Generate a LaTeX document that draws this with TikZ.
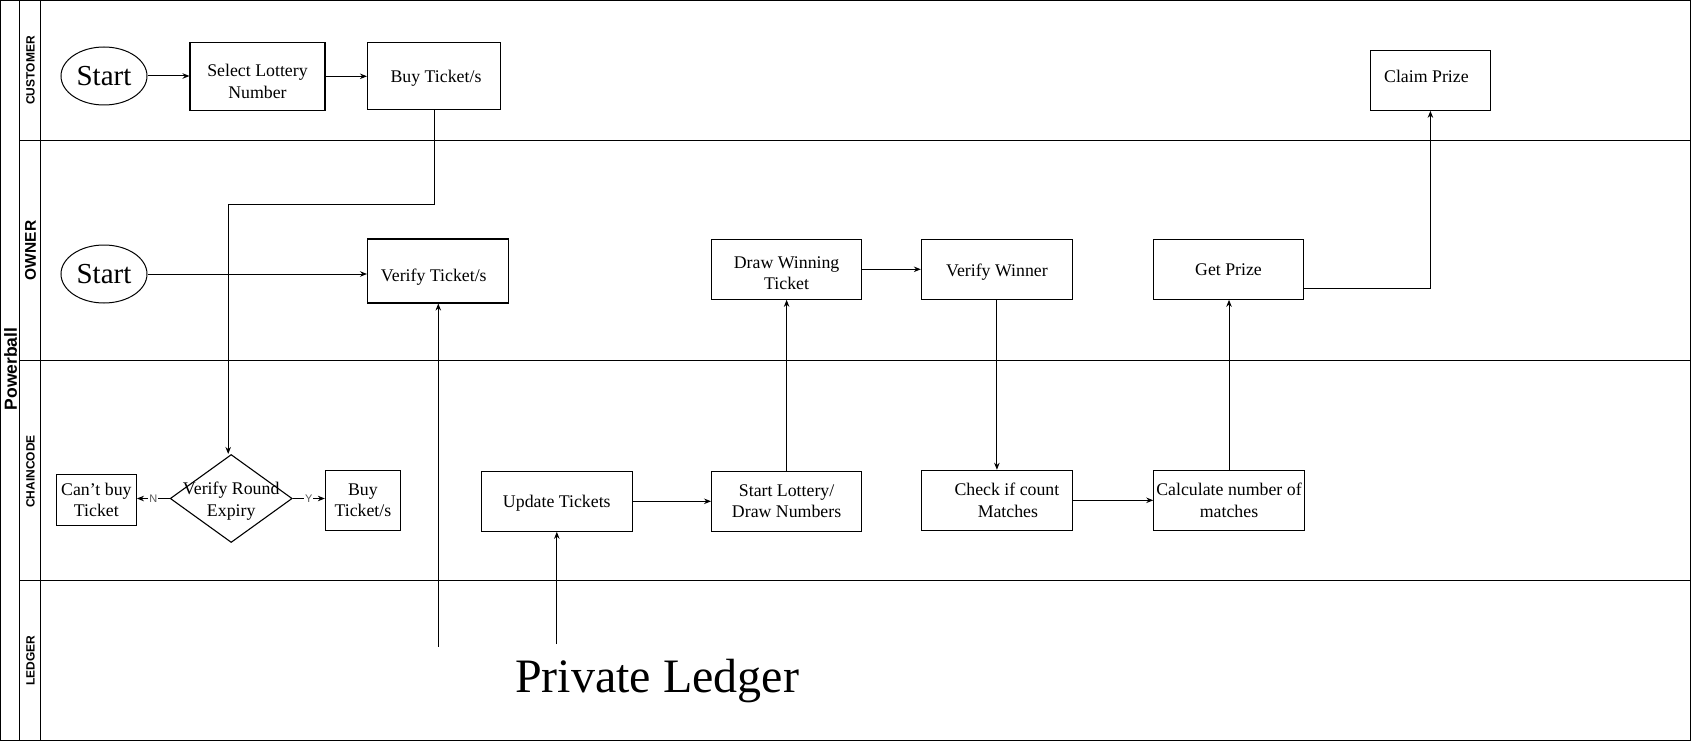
\documentclass[tikz,border=0pt]{standalone}
\usepackage{fontspec}
\setmainfont{Liberation Serif}
\newfontfamily\lanesans{Liberation Sans}
\usetikzlibrary{shapes.geometric,arrows.meta}
\begin{document}
\begin{tikzpicture}[x=1pt,y=-1pt,
  every node/.style={inner sep=0pt},
  box/.style={draw, line width=1.1pt, rectangle, align=center, font=\fontsize{17.8}{21.6}\selectfont},
  txt/.style={align=center, font=\fontsize{17.8}{21.6}\selectfont},
  startnode/.style={draw, line width=1pt, ellipse, minimum width=86pt, minimum height=58pt, font=\fontsize{29}{32}\selectfont},
  arr/.style={line width=1pt, -{Stealth[length=7pt,width=5.5pt]}},
  lane/.style={line width=1.2pt},
  lanelbl/.style={rotate=90, font=\lanesans\bfseries\fontsize{12}{14}\selectfont},
  yn/.style={fill=white, text=black!65, font=\lanesans\fontsize{11}{12}\selectfont, inner sep=1pt}
]
\useasboundingbox (0,0) rectangle (1691,741);
\fill[white] (0,0) rectangle (1691,741);

% pool and lanes
\draw[lane] (0.6,0.6) rectangle (1690.2,740.2);
\draw[lane] (19.5,0.6) -- (19.5,740.2);
\draw[lane] (40.6,0.6) -- (40.6,740.2);
\draw[lane] (19.5,140.2) -- (1690.2,140.2);
\draw[lane] (19.5,360.5) -- (1690.2,360.5);
\draw[lane] (19.5,580.3) -- (1690.2,580.3);

\node[rotate=90, font=\lanesans\bfseries\fontsize{17.5}{20}\selectfont] (pool) at (10.5,369) {Powerball};
\node[lanelbl] (lcust) at (30.5,70.5) {CUSTOMER};
\node[lanelbl, font=\lanesans\bfseries\fontsize{15.5}{18}\selectfont] (lown) at (30.5,250.5) {OWNER};
\node[lanelbl] (lchain) at (30.5,471.5) {CHAINCODE};
\node[lanelbl] (lledg) at (30.5,660.5) {LEDGER};

% customer lane
\node[startnode] (s1) at (104,76) {Start};
\node[box, minimum width=135pt, minimum height=68pt] (sel) at (257.5,76.3) {};
\node[txt] (selt) at ([yshift=-5pt]sel.center) {Select Lottery\\Number};
\node[box, minimum width=133pt, minimum height=67pt] (buy) at (434,75.8) {};
\node[txt] (buyt) at ([xshift=2pt,yshift=-2pt]buy.center) {Buy Ticket/s};
\node[box, minimum width=120pt, minimum height=60pt] (claim) at (1430.4,80.3) {};
\node[txt] (claimt) at ([xshift=-4pt,yshift=4pt]claim.center) {Claim Prize};

% owner lane
\node[startnode] (s2) at (104,274) {Start};
\node[box, minimum width=140.5pt, minimum height=64pt] (vt) at (437.8,271) {};
\node[txt] (vtt) at ([xshift=-4pt,yshift=-6pt]vt.center) {Verify Ticket/s};
\node[box, minimum width=150pt, minimum height=60pt] (dwt) at (786.6,269.3) {};
\node[txt] (dwtt) at ([yshift=-4pt]dwt.center) {Draw Winning\\Ticket};
\node[box, minimum width=151pt, minimum height=60pt] (vw) at (996.9,269.3) {};
\node[txt] (vwt) at ([yshift=-3pt]vw.center) {Verify Winner};
\node[box, minimum width=150pt, minimum height=60pt] (gp) at (1228.5,269.3) {Get Prize};

% chaincode lane
\node[box, minimum width=80pt, minimum height=51pt] (cant) at (96.4,499.8) {Can’t buy\\Ticket};
\node[draw, line width=1.1pt, diamond, minimum width=122pt, minimum height=88pt, aspect=1.386] (d) at (231.2,498.5) {};
\node[txt] (dtxt) at (231.2,501) {Verify Round\\Expiry};
\node[box, minimum width=75pt, minimum height=60pt] (bt2) at (362.9,500.3) {Buy\\Ticket/s};
\node[box, minimum width=150.6pt, minimum height=60pt] (ut) at (556.8,501.3) {};
\node[txt] (utt) at ([yshift=-2pt]ut.center) {Update Tickets};
\node[box, minimum width=150pt, minimum height=60pt] (sl) at (786.6,501.3) {Start Lottery/\\Draw Numbers};
\node[box, minimum width=151pt, minimum height=60pt] (cm) at (996.9,500.3) {\hspace*{20pt}Check if count\\\hspace*{22pt}Matches};
\node[box, minimum width=150.4pt, minimum height=60pt] (calc) at (1229,500.3) {Calculate number of\\matches};

% ledger lane
\node[anchor=base west, font=\fontsize{48}{52}\selectfont] (pl) at (515,692.7) {Private Ledger};
\coordinate (pl1) at (438.3,646.7);
\coordinate (pl2) at (556.8,644);

% connectors
\draw[arr] (s1.east) -- (sel.west |- s1.east);
\draw[arr] (sel.east) -- (buy.west |- sel.east);
\draw[arr] (buy.south) -- (buy.south |- 0,204) -| ([xshift=-3pt]d.north);
\draw[arr] (s2.east) -- (vt.west |- s2.east);
\draw[arr] (pl1) -- (pl1 |- vt.south);
\draw[arr] (pl2) -- (ut.south);
\draw[arr] (d.west) -- node[yn] {N} (cant.east |- d.west);
\draw[arr] (d.east) -- node[yn] {Y} (bt2.west |- d.east);
\draw[arr] (ut.east) -- (sl.west);
\draw[arr] (sl.north) -- (dwt.south);
\draw[arr] (dwt.east) -- (vw.west);
\draw[arr] (vw.south) -- (vw.south |- cm.north);
\draw[arr] (cm.east) -- (calc.west |- cm.east);
\draw[arr] (calc.north) -- (calc.north |- gp.south);
\draw[arr] (gp.east |- 0,288) -| (claim.south);
\end{tikzpicture}
\end{document}
